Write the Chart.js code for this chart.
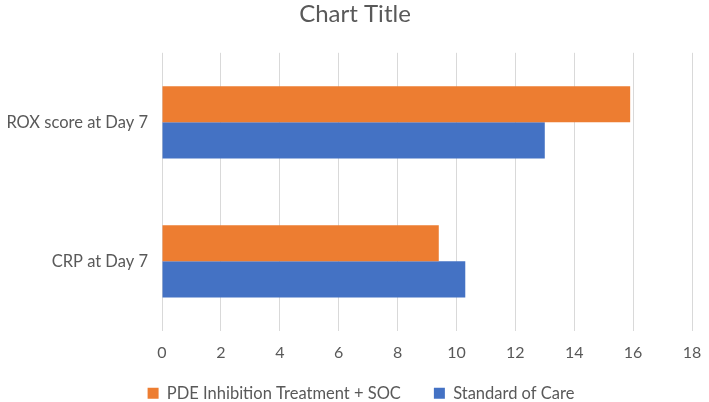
<!DOCTYPE html>
<html>
<head>
<meta charset="utf-8">
<script src="https://cdn.jsdelivr.net/npm/chart.js@4"></script>
<style>
  html, body { margin: 0; padding: 0; background: #fff; }
  #wrap { width: 709px; height: 402px; }
</style>
</head>
<body>
<div id="wrap"><canvas id="barChart" width="709" height="402"></canvas></div>
<script>
// values
const categories = ["ROX score at Day 7", "CRP at Day 7"];
const pdeValues = [15.9, 9.4];
const socValues = [13.0, 10.3];
const seriesNames = ["PDE Inhibition Treatment + SOC", "Standard of Care"];

const textColor = "#595959";
const fontFamily = "Lato, 'Open Sans', sans-serif";

// legend padding is used for both the gap between items and the space
// above/below the row; keep the wide gap but give the row less height
const legendRow = {
    id: "legendRow",
    beforeInit(chart) {
        let lg = chart.legend;
        if (!lg) return;
        let fit = lg.fit;
        lg.fit = function () {
            fit.call(this);
            this.height = 28;
        };
    },
    afterLayout(chart) {
        let lg = chart.legend;
        if (!lg) return;
        lg.top -= 22;
        lg.left += 6;
        lg.right += 6;
    }
};

let ctx = document.getElementById("barChart").getContext("2d");

let chart = new Chart(ctx, {
    type: "bar",
    data: {
        labels: categories,
        datasets: [{
                label: seriesNames[0],
                data: pdeValues,
                backgroundColor: "#ED7D31",
                categoryPercentage: 0.52,
                barPercentage: 1.0
            },
            {
                label: seriesNames[1],
                data: socValues,
                backgroundColor: "#4472C4",
                categoryPercentage: 0.52,
                barPercentage: 1.0
            }
        ]
    },
    options: {
        indexAxis: "y",
        responsive: false,
        animation: false,
        layout: {
            padding: { left: 4, right: 3, top: 0, bottom: 0 }
        },
        plugins: {
            title: {
                display: true,
                text: "Chart Title",
                color: textColor,
                font: { family: fontFamily, size: 24, weight: "normal" },
                padding: { top: 0, bottom: 24 }
            },
            legend: {
                position: "bottom",
                labels: {
                    color: textColor,
                    font: { family: fontFamily, size: 16.5 },
                    boxWidth: 11,
                    boxHeight: 11,
                    padding: 33
                }
            },
            tooltip: { enabled: false }
        },
        scales: {
            x: {
                min: 0,
                max: 18,
                ticks: {
                    stepSize: 2,
                    color: textColor,
                    font: { family: fontFamily, size: 16 },
                    padding: 12
                },
                grid: {
                    color: "#d9d9d9",
                    lineWidth: 1,
                    drawTicks: false
                },
                border: { display: false },
                afterFit: (axis) => { axis.paddingRight = 17; }
            },
            y: {
                ticks: {
                    color: textColor,
                    font: { family: fontFamily, size: 16.5 },
                    padding: 14
                },
                grid: { display: false, drawTicks: false },
                border: { display: false },
                afterFit: (axis) => { axis.width = 158; }
            }
        }
    },
    plugins: [legendRow]
});
</script>
</body>
</html>
